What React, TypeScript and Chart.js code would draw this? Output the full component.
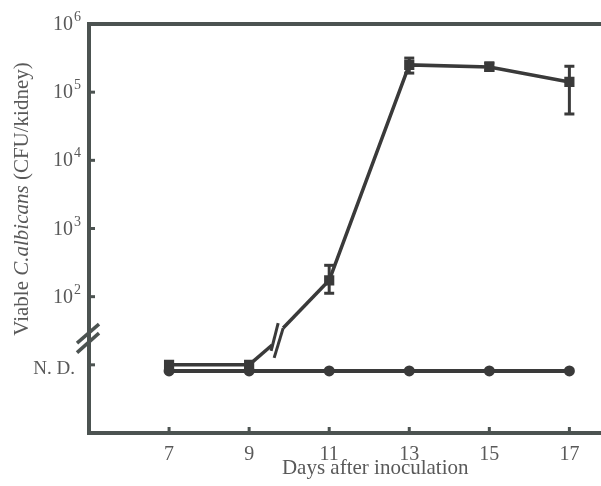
import React, { useEffect, useRef } from "react";
import { Chart, registerables } from "chart.js";

Chart.register(...registerables);

// Values are in axis units: 1 = N. D. (not detected), n = log10(CFU/kidney)
const days = [7, 9, 11, 13, 15, 17];
const infected = [1.0, 1.0, 2.24, 5.4, 5.37, 5.15];
const infectedErrHigh = [null, null, 2.46, 5.5, 5.43, 5.38];
const infectedErrLow = [null, null, 2.05, 5.28, 5.32, 4.68];
const control = [0.91, 0.91, 0.91, 0.91, 0.91, 0.91];

const xTicks = [7, 9, 11, 13, 15, 17];
const xTickLabels = ["7", "9", "11", "13", "15", "17"];
const yTicks = [1, 2, 3, 4, 5, 6];
const yTickLabels = ["N. D.", "10^2", "10^3", "10^4", "10^5", "10^6"];
const yBreakAt = 1.4;

const AXIS = "#4c5351";
const LINE = "#3a3a3a";
const TEXT = "#595959";
const FONT = '"Liberation Serif", "Times New Roman", serif';

const decor = {
  id: "decor",
  afterDatasetsDraw(chart: any) {
    const ctx = chart.ctx as CanvasRenderingContext2D;
    const xs = chart.scales.x;
    const ys = chart.scales.y;
    const area = chart.chartArea;
    ctx.save();

    // broken segment between day 9 and day 11 of the infected series
    const x0 = xs.getPixelForValue(days[1]);
    const y0 = ys.getPixelForValue(infected[1]);
    const x1 = xs.getPixelForValue(days[2]);
    const y1 = ys.getPixelForValue(infected[2]);
    const dx = x1 - x0;
    const dy = y1 - y0;
    const P = (fx: number, fy: number) => [x0 + fx * dx, y0 + fy * dy];
    ctx.strokeStyle = LINE;
    ctx.lineCap = "butt";
    ctx.lineWidth = 3.5;
    const seg = (a: number[], b: number[]) => {
      ctx.beginPath();
      ctx.moveTo(a[0], a[1]);
      ctx.lineTo(b[0], b[1]);
      ctx.stroke();
    };
    seg(P(0, 0), P(0.2875, 0.235));
    seg(P(0.425, 0.435), P(1, 1));
    ctx.lineWidth = 3;
    seg(P(0.275, 0.165), P(0.3625, 0.494));
    seg(P(0.3125, 0.082), P(0.425, 0.435));

    // error bars
    ctx.lineWidth = 3;
    for (let i = 0; i < days.length; i++) {
      const hi = infectedErrHigh[i];
      const lo = infectedErrLow[i];
      if (hi == null || lo == null) continue;
      const px = xs.getPixelForValue(days[i]);
      const ph = ys.getPixelForValue(hi);
      const pl = ys.getPixelForValue(lo);
      seg([px, ph], [px, pl]);
      seg([px - 5, ph], [px + 5, ph]);
      seg([px - 5, pl], [px + 5, pl]);
    }

    // top frame line and x axis continuation to the edge
    ctx.strokeStyle = AXIS;
    ctx.lineWidth = 4;
    seg([area.left - 2, area.top], [chart.width, area.top]);
    seg([area.right - 2, area.bottom], [chart.width, area.bottom]);

    // tick marks (inside)
    ctx.lineWidth = 3;
    for (const v of yTicks) {
      const py = ys.getPixelForValue(v);
      seg([area.left, py], [area.left + 6, py]);
    }
    for (const v of xTicks) {
      const px = xs.getPixelForValue(v);
      seg([px, area.bottom], [px, area.bottom - 6]);
    }

    // y axis break
    const pb = ys.getPixelForValue(yBreakAt);
    ctx.lineWidth = 3.5;
    seg([area.left - 12, pb + 5.5], [area.left + 10, pb - 13.5]);
    seg([area.left - 12, pb + 15], [area.left + 10, pb - 4.5]);

    // y tick labels
    ctx.fillStyle = TEXT;
    ctx.textBaseline = "alphabetic";
    ctx.textAlign = "right";
    yTicks.forEach((v, i) => {
      const py = ys.getPixelForValue(v);
      const lab = yTickLabels[i];
      if (lab.includes("^")) {
        const [base, exp] = lab.split("^");
        ctx.font = `14px ${FONT}`;
        const ew = ctx.measureText(exp).width;
        ctx.fillText(exp, 81, py - 3);
        ctx.font = `20px ${FONT}`;
        ctx.fillText(base, 81 - ew - 1, py + 6);
      } else {
        ctx.font = `19px ${FONT}`;
        ctx.fillText(lab, 75, py + 9);
      }
    });

    // x tick labels
    ctx.textAlign = "center";
    ctx.font = `20px ${FONT}`;
    xTicks.forEach((v, i) => {
      ctx.fillText(xTickLabels[i], xs.getPixelForValue(v), area.bottom + 27);
    });

    // x title
    ctx.font = `21px ${FONT}`;
    const xc = (xs.getPixelForValue(xTicks[0]) + xs.getPixelForValue(xTicks[xTicks.length - 1])) / 2 + 6;
    ctx.fillText("Days after inoculation", xc, area.bottom + 41);

    // y title (mixed italic)
    const parts: [string, string][] = [
      ["Viable ", `21px ${FONT}`],
      ["C.albicans", `italic 21px ${FONT}`],
      [" (CFU/kidney)", `21px ${FONT}`],
    ];
    let total = 0;
    const widths = parts.map(([t, f]) => {
      ctx.font = f;
      const w = ctx.measureText(t).width;
      total += w;
      return w;
    });
    ctx.translate(28, 199);
    ctx.rotate(-Math.PI / 2);
    ctx.textAlign = "left";
    let cx = -total / 2;
    parts.forEach(([t, f], i) => {
      ctx.font = f;
      ctx.fillText(t, cx, 0);
      cx += widths[i];
    });
    ctx.restore();
  },
};

export default function App() {
  const ref = useRef<HTMLCanvasElement | null>(null);
  useEffect(() => {
    if (!ref.current) return;
    const chart = new Chart(ref.current, {
      type: "line",
      data: {
        datasets: [
          {
            label: "Control",
            data: days.map((d, i) => ({ x: d, y: control[i] })),
            borderColor: LINE,
            backgroundColor: LINE,
            borderWidth: 4,
            pointStyle: "circle",
            pointRadius: 5.5,
            pointBorderWidth: 0,
            tension: 0,
          },
          {
            label: "Infected",
            data: days.map((d, i) => ({ x: d, y: infected[i] })),
            borderColor: LINE,
            backgroundColor: LINE,
            borderWidth: 3.5,
            pointStyle: "rect",
            pointRadius: 7.2,
            pointBorderWidth: 0,
            tension: 0,
            segment: {
              borderColor: (c: any) => (c.p0DataIndex === 1 ? "rgba(0,0,0,0)" : LINE),
            },
          },
        ],
      },
      options: {
        responsive: false,
        animation: false,
        devicePixelRatio: 1,
        layout: { padding: { left: 89, top: 24, right: 0, bottom: 53 } },
        plugins: { legend: { display: false }, tooltip: { enabled: false } },
        scales: {
          x: {
            type: "linear",
            min: 5,
            max: 17.61,
            grid: { display: false, drawTicks: false },
            ticks: { display: false },
            border: { display: true, color: AXIS, width: 4 },
            afterBuildTicks: (s: any) => {
              s.ticks = xTicks.map((v) => ({ value: v }));
            },
            afterFit: (s: any) => {
              s.height = 0;
            },
          },
          y: {
            type: "linear",
            min: 0,
            max: 6,
            grid: { display: false, drawTicks: false },
            ticks: { display: false },
            border: { display: true, color: AXIS, width: 4 },
            afterBuildTicks: (s: any) => {
              s.ticks = yTicks.map((v) => ({ value: v }));
            },
            afterFit: (s: any) => {
              s.width = 0;
            },
          },
        },
      },
      plugins: [decor],
    } as any);
    return () => chart.destroy();
  }, []);
  return (
    <div style={{ position: "absolute", left: 0, top: 0, width: 601, height: 486, background: "#fff" }}>
      <canvas ref={ref} width={601} height={486} style={{ display: "block", width: 601, height: 486 }} />
    </div>
  );
}
